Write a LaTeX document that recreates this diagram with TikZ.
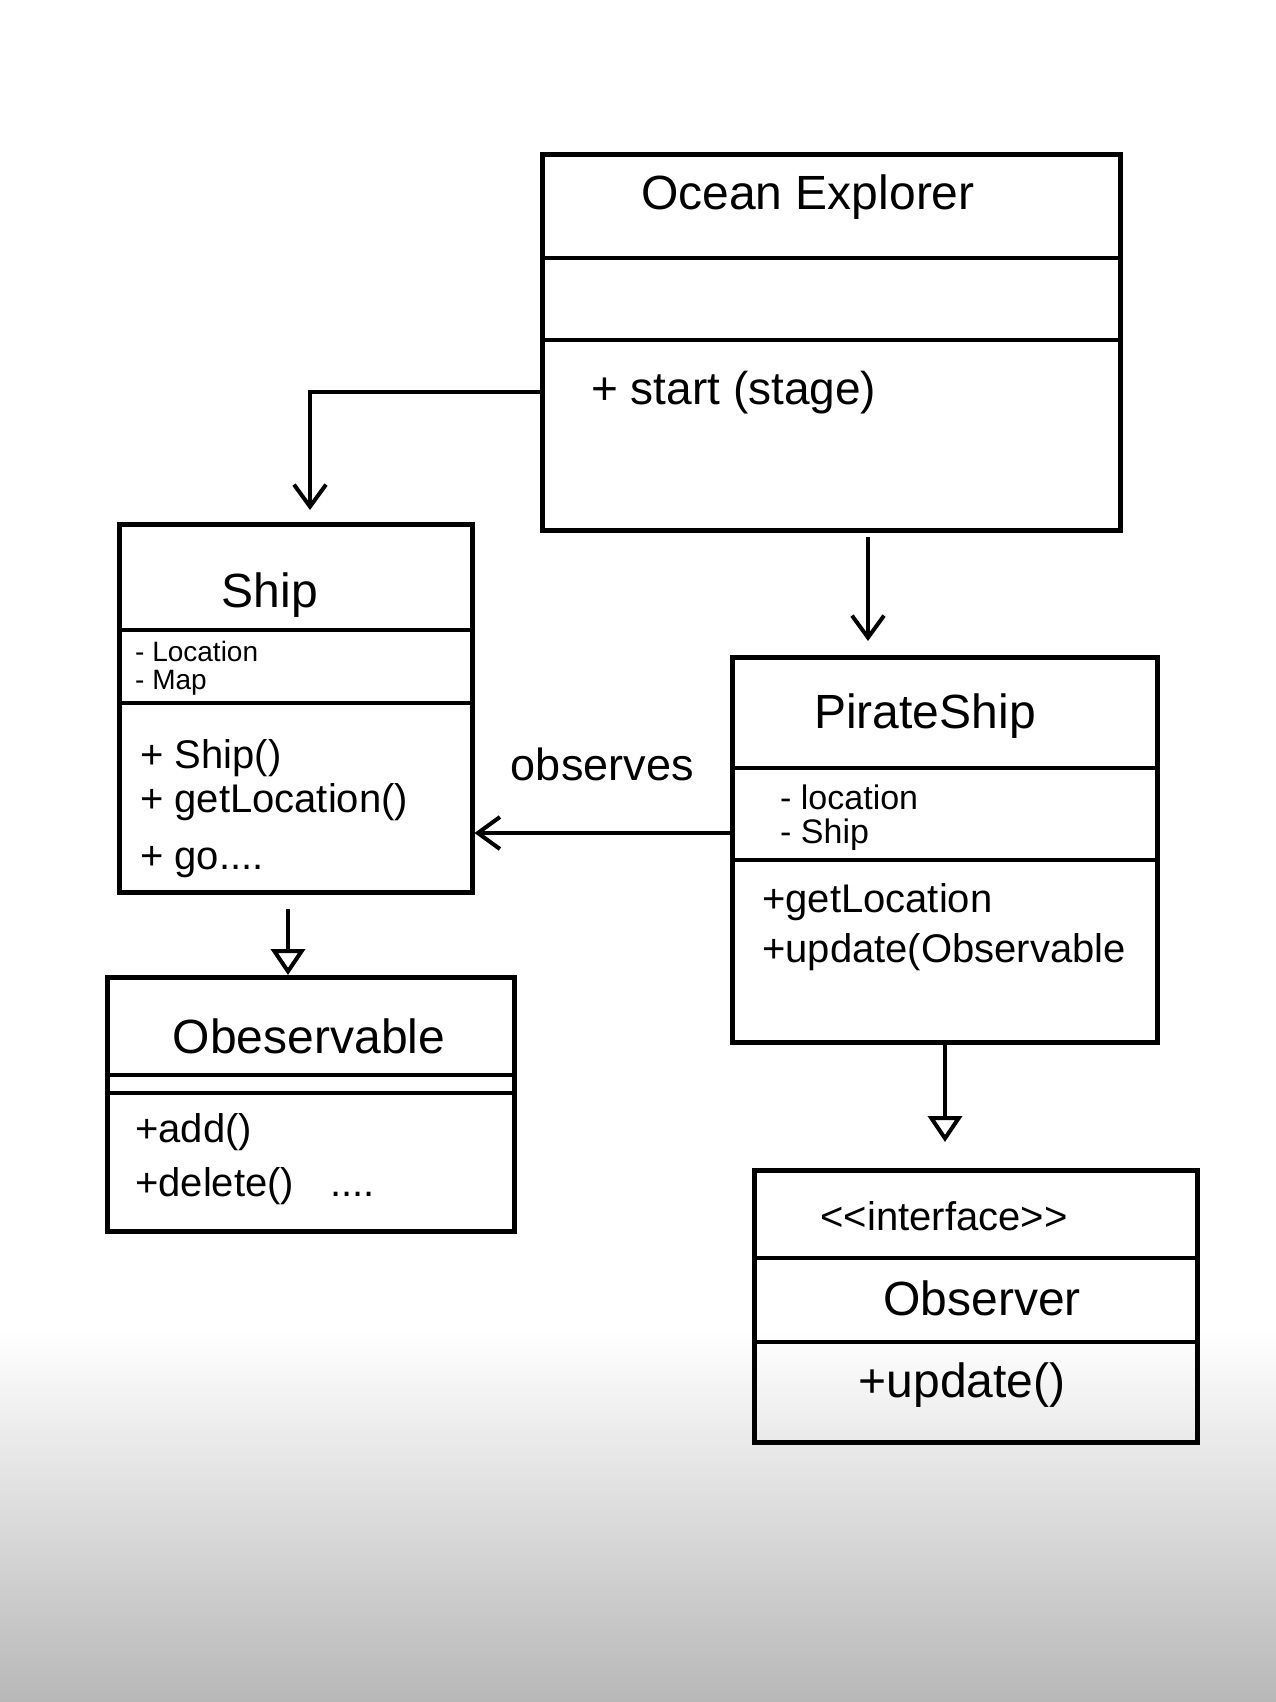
\documentclass[tikz,border=0pt]{standalone}
\usepackage{fontspec}
\setmainfont{Liberation Sans}
\usetikzlibrary{arrows.meta}
\begin{document}
\begin{tikzpicture}[x=1pt,y=-1pt,
  classbox/.style={draw, line width=4.5pt, rectangle, inner sep=0pt, anchor=north west},
  divline/.style={line width=4.5pt},
  conn/.style={line width=4pt},
  vtip/.style={conn, -{Straight Barb[length=22pt,width=32pt,line width=4pt]}},
  tri/.style={conn, -{Triangle[open,length=26pt,width=34pt,line width=4pt]}},
  titletext/.style={font=\fontsize{48}{52}\selectfont, inner sep=0pt},
  membertext/.style={font=\fontsize{40}{42}\selectfont, inner sep=0pt, anchor=west},
  attrtext/.style={font=\fontsize{28}{30}\selectfont, inner sep=0pt, anchor=west},
  labeltext/.style={font=\fontsize{45}{48}\selectfont, inner sep=0pt},
]
\fill[white] (0,0) rectangle (1276,1702);
\shade[top color=white, bottom color=black!28] (0,1330) rectangle (1276,1702);
\useasboundingbox (0,0) rectangle (1276,1702);

% OceanExplorer
\node[classbox, minimum width=578pt, minimum height=376pt] (oe) at (540,152) {};
\draw[divline] (oe.west |- 0,258) -- (oe.east |- 0,258);
\draw[divline] (oe.west |- 0,340) -- (oe.east |- 0,340);
\node[titletext] (oet) at (808,197) {Ocean Explorer};
\node[membertext, font=\fontsize{46}{48}\selectfont] (oem) at (591,393) {+ start (stage)};

% Ship
\node[classbox, minimum width=353pt, minimum height=368pt] (ship) at (117,522) {};
\draw[divline] (ship.west |- 0,630) -- (ship.east |- 0,630);
\draw[divline] (ship.west |- 0,703) -- (ship.east |- 0,703);
\node[titletext] (shipt) at (270,595) {Ship};
\node[attrtext] (shipa1) at (135,651) {- Location};
\node[attrtext] (shipa2) at (135,683) {- Map};
\node[membertext] (shipm1) at (140,758) {+ Ship()};
\node[membertext] (shipm2) at (140,802) {+ getLocation()};
\node[membertext] (shipm3) at (140,862) {+ go....};

% PirateShip
\node[classbox, minimum width=425pt, minimum height=385pt] (pirate) at (730,655) {};
\draw[divline] (pirate.west |- 0,768) -- (pirate.east |- 0,768);
\draw[divline] (pirate.west |- 0,860) -- (pirate.east |- 0,860);
\node[titletext] (piratet) at (925,716) {PirateShip};
\node[attrtext, font=\fontsize{34}{36}\selectfont] (piratea1) at (780,797) {- location};
\node[attrtext, font=\fontsize{34}{36}\selectfont] (piratea2) at (780,835) {- Ship};
\node[membertext] (piratem1) at (762,902) {+getLocation};
\node[membertext] (piratem2) at (762,952) {+update(Observable};

% Observable
\node[classbox, minimum width=407pt, minimum height=254pt] (observable) at (105,975) {};
\draw[divline] (observable.west |- 0,1075) -- (observable.east |- 0,1075);
\draw[divline] (observable.west |- 0,1093) -- (observable.east |- 0,1093);
\node[titletext] (observablet) at (309,1036) {Obeservable};
\node[membertext] (observablem1) at (135,1132) {+add()};
\node[membertext] (observablem2) at (135,1186) {+delete()\hspace{36pt}....};

% Observer
\node[classbox, minimum width=443pt, minimum height=272pt] (observer) at (752,1168) {};
\draw[divline] (observer.west |- 0,1258) -- (observer.east |- 0,1258);
\draw[divline] (observer.west |- 0,1342) -- (observer.east |- 0,1342);
\node[membertext, anchor=center] (observers) at (944,1216) {<\kern0pt<interface>\kern0pt>};
\node[titletext] (observert) at (982,1298) {Observer};
\node[membertext, anchor=center, font=\fontsize{48}{50}\selectfont] (observerm) at (962,1385) {+update()};

% connectors
\draw[vtip, shorten >=12pt] (oe.west |- 0,392) -| (ship.north -| 310,0);
\draw[vtip, shorten <=4pt, shorten >=14pt] (oe.south -| 868,0) -- (pirate.north -| 868,0);
\draw[vtip] (pirate.west |- 0,833) -- (ship.east |- 0,833)
  node[labeltext, midway, above=50pt] (obslabel) {observes};
\draw[tri, shorten <=14pt] (ship.south -| 288,0) -- (observable.north -| 288,0);
\draw[tri, shorten >=26pt] (pirate.south -| 945,0) -- (observer.north -| 945,0);
\end{tikzpicture}
\end{document}
